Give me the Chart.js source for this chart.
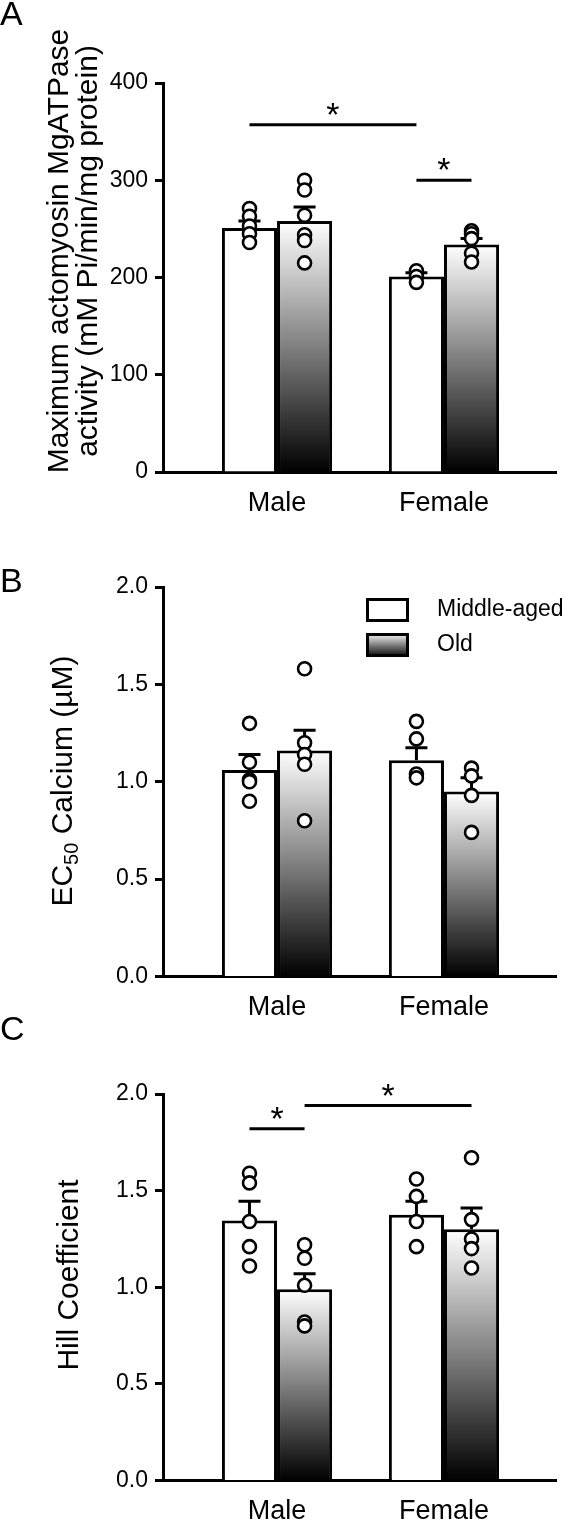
<!DOCTYPE html>
<html>
<head>
<meta charset="utf-8">
<script src="https://cdn.jsdelivr.net/npm/chart.js@4.4.1/dist/chart.umd.min.js"></script>
<style>
  html, body { margin: 0; padding: 0; background: #fff; }
  #wrap { position: relative; width: 568px; height: 1525px; overflow: hidden; }
  #wrap canvas { position: absolute; left: 0; }
</style>
</head>
<body>
<div id="wrap">
  <canvas id="chartA" width="568" height="530" style="top:0px"></canvas>
  <canvas id="chartB" width="568" height="490" style="top:530px"></canvas>
  <canvas id="chartC" width="568" height="508" style="top:1017px"></canvas>
</div>
<script>
// categories / series
const groups = ['Male', 'Female'];
const seriesNames = ['Middle-aged', 'Old'];

// A: max actomyosin MgATPase activity
const atpaseMid = [251, 201];
const atpaseOld = [258, 234];
const atpaseMidSem = [7, 4];
const atpaseOldSem = [14.5, 6];
const atpaseMidPts = [[271, 263, 253, 245, 236], [207, 201, 195]];
const atpaseOldPts = [[300, 290, 264, 244, 238, 215], [248, 245, 240, 225, 216]];
const atpaseTicks = [0, 100, 200, 300, 400];
// [group, series] pairs, y = height of the bar
const atpaseSig = [
  { from: [0, 0], to: [1, 0], y: 357 },
  { from: [1, 0], to: [1, 1], y: 300 }
];

// B: EC50 calcium
const ec50Mid = [1.06, 1.11];
const ec50Old = [1.16, 0.95];
const ec50MidSem = [0.08, 0.065];
const ec50OldSem = [0.105, 0.07];
const ec50MidPts = [[1.30, 1.10, 1.01, 1.00, 0.90], [1.31, 1.22, 1.04, 1.02]];
const ec50OldPts = [[1.58, 1.20, 1.14, 1.09, 0.80], [1.07, 1.03, 0.93, 0.74]];
const ec50Ticks = [0, 0.5, 1.0, 1.5, 2.0];

// C: Hill coefficient
const hillMid = [1.345, 1.375];
const hillOld = [0.99, 1.30];
const hillMidSem = [0.10, 0.07];
const hillOldSem = [0.08, 0.11];
const hillMidPts = [[1.59, 1.54, 1.34, 1.21, 1.11], [1.56, 1.47, 1.34, 1.21]];
const hillOldPts = [[1.22, 1.15, 1.01, 0.82, 0.80], [1.67, 1.35, 1.25, 1.20, 1.10]];
const hillTicks = [0, 0.5, 1.0, 1.5, 2.0];
const hillSig = [
  { from: [0, 0], to: [0, 1], y: 1.82 },
  { from: [0, 1], to: [1, 1], y: 1.94 }
];

const FONT = '"Liberation Sans", Arial, Helvetica, sans-serif';
const CAT_PCT = 0.66;
// axis runs from a bit left of Male to well right of Female
const X_MIN = 0.317, X_MAX = 2.671;

function xFor(g, s) { return g + 1 + (s === 0 ? -1 : 1) * CAT_PCT / 4; }

function oldFill(ctx) {
  const chart = ctx.chart;
  if (ctx.type !== 'data' || !chart.chartArea) return '#808080';
  const ys = chart.scales.y;
  const top = ys.getPixelForValue(ctx.raw.y);
  const base = ys.getPixelForValue(0);
  const g = chart.ctx.createLinearGradient(0, top, 0, base);
  g.addColorStop(0, '#ffffff');
  g.addColorStop(1, '#000000');
  return g;
}

function panelPlugin(cfg) {
  return {
    id: 'panel' + cfg.letter,
    afterDatasetDraw(chart, args) {
      const ds = chart.data.datasets[args.index];
      if (!ds.sem) return;
      const ys = chart.scales.y;
      const c = chart.ctx;
      c.save();
      c.strokeStyle = '#000';
      c.lineWidth = 3;
      args.meta.data.forEach((bar, i) => {
        const top = ys.getPixelForValue(ds.data[i].y + ds.sem[i]);
        c.beginPath();
        c.moveTo(bar.x, bar.y);
        c.lineTo(bar.x, top);
        c.moveTo(bar.x - 11, top);
        c.lineTo(bar.x + 11, top);
        c.stroke();
      });
      c.restore();
    },
    afterDraw(chart) {
      const c = chart.ctx;
      const ys = chart.scales.y;
      c.save();
      c.fillStyle = '#000';
      c.strokeStyle = '#000';

      // panel letter
      c.font = '34px ' + FONT;
      c.textAlign = 'left';
      c.textBaseline = 'alphabetic';
      c.fillText(cfg.letter, 0, cfg.letterY);

      // y title (rotated), parts allow a subscript
      cfg.title.forEach((line, li) => {
        c.save();
        c.translate(cfg.titleX[li], cfg.titleY);
        c.rotate(-Math.PI / 2);
        let total = 0;
        line.forEach(p => { c.font = p.size + 'px ' + FONT; total += c.measureText(p.t).width; });
        let x = -total / 2;
        line.forEach(p => {
          c.font = p.size + 'px ' + FONT;
          c.fillText(p.t, x, p.dy || 0);
          x += c.measureText(p.t).width;
        });
        c.restore();
      });

      // significance bars
      (cfg.sig || []).forEach(s => {
        const x1 = chart.getDatasetMeta(s.from[1]).data[s.from[0]].x;
        const x2 = chart.getDatasetMeta(s.to[1]).data[s.to[0]].x;
        const yy = ys.getPixelForValue(s.y);
        c.lineWidth = 3;
        c.beginPath();
        c.moveTo(x1, yy);
        c.lineTo(x2, yy);
        c.stroke();
        c.font = '34px ' + FONT;
        c.textAlign = 'center';
        c.fillText('*', (x1 + x2) / 2, yy + 1);
      });

      // legend
      if (cfg.legend) {
        seriesNames.forEach((name, s) => {
          const bx = 366, by = 68 + s * 35, bw = 43, bh = 24;
          if (s === 0) {
            c.fillStyle = '#fff';
          } else {
            const g = c.createLinearGradient(0, by, 0, by + bh);
            g.addColorStop(0, '#ffffff');
            g.addColorStop(1, '#000000');
            c.fillStyle = g;
          }
          c.fillRect(bx, by, bw, bh);
          c.lineWidth = 3;
          c.strokeRect(bx + 1.5, by + 1.5, bw - 3, bh - 3);
          c.fillStyle = '#000';
          c.font = '23px ' + FONT;
          c.textAlign = 'left';
          c.textBaseline = 'middle';
          c.fillText(name, 437, by + bh / 2);
          c.textBaseline = 'alphabetic';
        });
      }
      c.restore();
    }
  };
}

function makePanel(id, p) {
  const canvas = document.getElementById(id);
  const bars = [
    { type: 'bar', label: seriesNames[0], order: 2, sem: p.midSem,
      data: p.mid.map((v, i) => ({ x: i + 1, y: v })),
      backgroundColor: '#fff', borderColor: '#000', borderWidth: 3, borderSkipped: 'start' },
    { type: 'bar', label: seriesNames[1], order: 2, sem: p.oldSem,
      data: p.old.map((v, i) => ({ x: i + 1, y: v })),
      backgroundColor: oldFill, borderColor: '#000', borderWidth: 3, borderSkipped: 'start' }
  ];
  const dots = [p.midPts, p.oldPts].map((pts, s) => ({
    type: 'scatter', label: seriesNames[s] + ' points', order: 1,
    data: pts.flatMap((arr, g) => arr.map(v => ({ x: xFor(g, s), y: v }))),
    pointRadius: 6.5, borderWidth: 2.6, backgroundColor: '#fff', borderColor: '#000'
  }));
  const H = canvas.height;
  return new Chart(canvas, {
    data: { datasets: bars.concat(dots) },
    options: {
      responsive: false,
      animation: false,
      events: [],
      categoryPercentage: CAT_PCT,
      barPercentage: 1,
      layout: { padding: { top: p.top, right: 12, bottom: 0, left: 0 } },
      plugins: { legend: { display: false }, tooltip: { enabled: false } },
      scales: {
        x: {
          type: 'linear', min: X_MIN, max: X_MAX, offset: false,
          afterBuildTicks: s => { s.ticks = groups.map((_, i) => ({ value: i + 1 })); },
          afterFit: s => { s.height = H - p.bottom; },
          grid: { display: false, drawTicks: false, offset: false },
          border: { display: true, color: '#000', width: 3 },
          ticks: { color: '#000', padding: 15, font: { family: FONT, size: 27 },
                   callback: v => groups[v - 1] }
        },
        y: {
          min: p.ticks[0], max: p.ticks[p.ticks.length - 1],
          afterBuildTicks: s => { s.ticks = p.ticks.map(v => ({ value: v })); },
          afterFit: s => { s.width = 163; },
          grid: { display: true, drawOnChartArea: false, drawTicks: true, tickLength: 8,
                  tickWidth: 3, tickColor: '#000' },
          border: { display: true, color: '#000', width: 3 },
          ticks: { color: '#000', padding: 7, font: { family: FONT, size: 23 },
                   callback: v => p.fmt(v) }
        }
      }
    },
    plugins: [panelPlugin(p.deco)]
  });
}

makePanel('chartA', {
  mid: atpaseMid, old: atpaseOld, midSem: atpaseMidSem, oldSem: atpaseOldSem,
  midPts: atpaseMidPts, oldPts: atpaseOldPts, ticks: atpaseTicks,
  fmt: v => String(v), top: 83, bottom: 472,
  deco: {
    letter: 'A', letterY: 25, sig: atpaseSig, titleY: 251, titleX: [68, 96.5],
    title: [[{ t: 'Maximum actomyosin MgATPase', size: 30 }],
            [{ t: 'activity (mM Pi/min/mg protein)', size: 30 }]]
  }
});

makePanel('chartB', {
  mid: ec50Mid, old: ec50Old, midSem: ec50MidSem, oldSem: ec50OldSem,
  midPts: ec50MidPts, oldPts: ec50OldPts, ticks: ec50Ticks,
  fmt: v => v.toFixed(1), top: 57, bottom: 446.5,
  deco: {
    letter: 'B', letterY: 62, legend: true, titleY: 251, titleX: [71.5],
    title: [[{ t: 'EC', size: 30 }, { t: '50', size: 20, dy: 6 }, { t: ' Calcium (\u00B5M)', size: 30 }]]
  }
});

makePanel('chartC', {
  mid: hillMid, old: hillOld, midSem: hillMidSem, oldSem: hillOldSem,
  midPts: hillMidPts, oldPts: hillOldPts, ticks: hillTicks,
  fmt: v => v.toFixed(1), top: 77, bottom: 463.5,
  deco: {
    letter: 'C', letterY: 23, sig: hillSig, titleY: 258, titleX: [78],
    title: [[{ t: 'Hill Coefficient', size: 30 }]]
  }
});
</script>
</body>
</html>
